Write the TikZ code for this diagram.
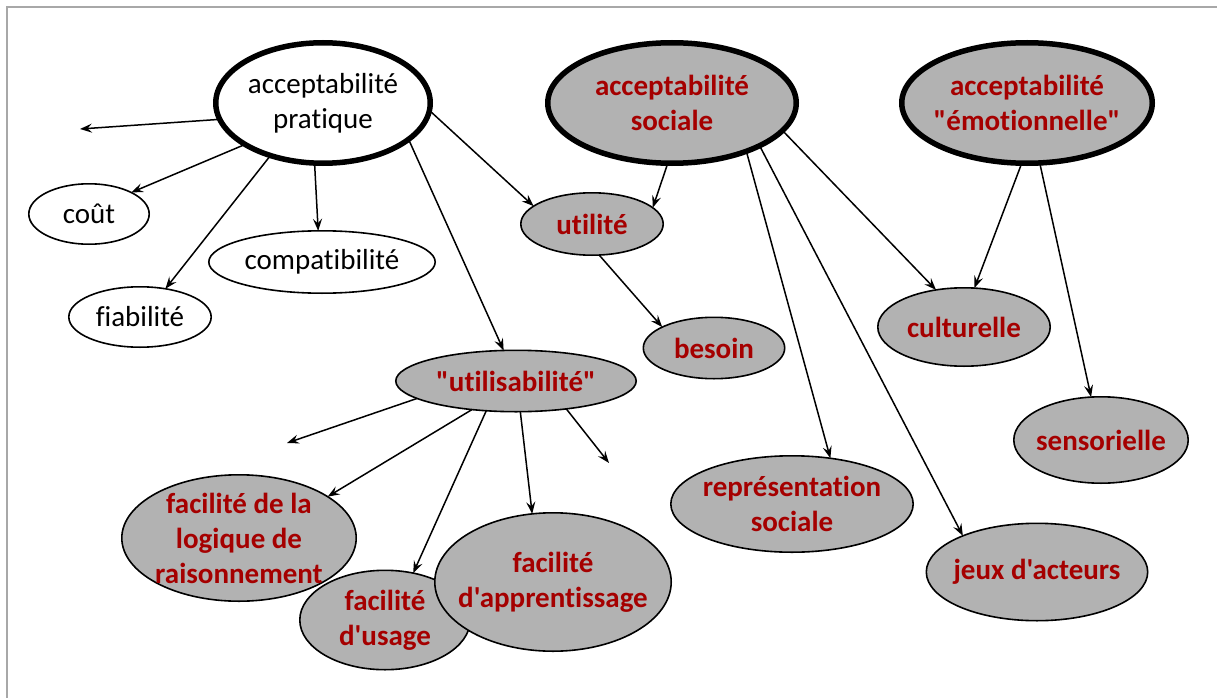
\documentclass[tikz,border=0pt]{standalone}
\usepackage{fontspec}
\newfontfamily\calib{Carlito}[Ligatures=CommonOff]
\usetikzlibrary{shapes.geometric,arrows.meta}
\definecolor{nodegray}{RGB}{178,178,178}
\definecolor{darkred}{RGB}{165,0,0}
\definecolor{framegray}{RGB}{168,168,168}
\tikzset{
  frameline/.style={draw=framegray, line width=2.5pt},
  base/.style={ellipse, draw=black, inner sep=0pt, outer sep=0pt},
  majw/.style={base, line width=5.5pt, fill=white},
  majg/.style={base, line width=5.5pt, fill=nodegray},
  minw/.style={base, line width=1.6pt, fill=white},
  ming/.style={base, line width=1.6pt, fill=nodegray},
  txtp/.style={font=\calib\fontsize{29}{35}\selectfont, align=center, inner sep=0pt},
  txtr/.style={font=\calib\bfseries\fontsize{29}{35}\selectfont, text=darkred, align=center, inner sep=0pt},
  arr/.style={-{Stealth[length=12pt,width=9pt,inset=4.5pt]}, line width=1.5pt},
}
\begin{document}
\begin{tikzpicture}[x=1pt,y=-1pt]
\useasboundingbox (0,0) rectangle (1217,698);
\fill[white] (0,0) rectangle (1217,698);
\draw[frameline] (7,698) -- (7,7) -- (1217,7);

% main ellipses
\node[majw, minimum width=214.5pt, minimum height=120.5pt] (P) at (323,103) {};
\node[majg, minimum width=248.5pt, minimum height=120.5pt] (S) at (672,103) {};
\node[majg, minimum width=250.5pt, minimum height=120.5pt] (E) at (1027,103) {};
% white leaves
\node[minw, minimum width=120.4pt, minimum height=60.4pt] (C) at (89,214) {};
\node[minw, minimum width=226.4pt, minimum height=62.4pt] (K) at (322,262) {};
\node[minw, minimum width=142.4pt, minimum height=60.4pt] (F) at (140,317) {};
% gray nodes
\node[ming, minimum width=142.4pt, minimum height=62.4pt] (U) at (592,224) {};
\node[ming, minimum width=141.4pt, minimum height=61.4pt] (B) at (714,348) {};
\node[ming, minimum width=172.4pt, minimum height=78.4pt] (Cu) at (964,327) {};
\node[ming, minimum width=240.4pt, minimum height=61.4pt] (Us) at (516,381) {};
\node[ming, minimum width=242.4pt, minimum height=96.4pt] (R) at (792,504) {};
\node[ming, minimum width=174.4pt, minimum height=86.4pt] (Se) at (1101,440) {};
\node[ming, minimum width=221.4pt, minimum height=97.4pt] (J) at (1037,572) {};
\node[ming, minimum width=234.4pt, minimum height=126.4pt] (L) at (239,538) {};
\node[ming, minimum width=170.4pt, minimum height=99.4pt] (D) at (385,620) {};
\node[ming, minimum width=236.4pt, minimum height=138.4pt] (A) at (553,582) {};

% texts
\node[txtp] (Pt) at (P) {acceptabilité\\pratique};
\node[txtr] (St) at (S) {acceptabilité\\sociale};
\node[txtr] (Et) at (E) {acceptabilité\\"émotionnelle"};
\node[txtp] (Ct) at (C) {coût};
\node[txtp] (Kt) at (K) {compatibilité};
\node[txtp] (Ft) at (F) {fiabilité};
\node[txtr] (Ut) at (U) {utilité};
\node[txtr] (Bt) at (B) {besoin};
\node[txtr] (Cut) at (Cu) {culturelle};
\node[txtr] (Ust) at (Us) {"utilisabilité"};
\node[txtr] (Rt) at (R) {représentation\\sociale};
\node[txtr] (Set) at (Se) {sensorielle};
\node[txtr] (Jt) at (J) {jeux d'acteurs};
\node[txtr] (Lt) at (L) {facilité de la\\logique de\\raisonnement};
\node[txtr] (Dt) at (D) {facilité\\d'usage};
\node[txtr] (At) at (A) {facilité\\d'apprentissage};

% free ends
\coordinate (a1) at (80,129);
\coordinate (n1) at (287,443);
\coordinate (r1) at (609,463);

% connectors
\draw[arr] (P.189.5) -- (a1);
\draw[arr] (P.208) -- (C.27.5);
\draw[arr] (P.262) -- (K.97);
\draw[arr] (P.225) -- (F.48.8);
\draw[arr] (P.-23) -- (Us.112.8);
\draw[arr] (P.-4.7) -- (U.163.2);
\draw[arr] (S.266.6) -- (U.15.6);
\draw[arr] (S.-33.5) -- (R.50.4);
\draw[arr] (S.-26.8) -- (J.154.2);
\draw[arr] (S.-14.3) -- (Cu.127.3);
\draw[arr] (E.265.7) -- (Cu.75.3);
\draw[arr] (E.282.6) -- (Se.103.4);
\draw[arr] (U.283.2) -- (B.158);
\draw[arr] (Us.190) -- (n1);
\draw[arr] (Us.213) -- (L.25.6);
\draw[arr] (Us.225.8) -- (D.59.9);
\draw[arr] (Us.278) -- (A.107.4);
\draw[arr] (Us.331.3) -- (r1);
\end{tikzpicture}
\end{document}
